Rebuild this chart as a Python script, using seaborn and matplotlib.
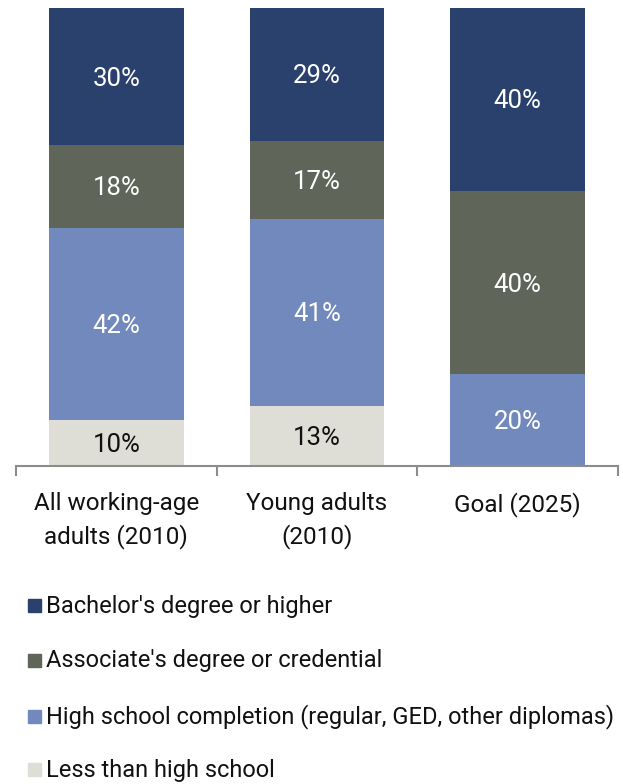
import matplotlib
matplotlib.use("Agg")
import matplotlib.pyplot as plt
import seaborn as sns
import pandas as pd
import numpy as np
from matplotlib.patches import Rectangle

categories = ["All working-age\nadults (2010)", "Young adults\n(2010)", "Goal (2025)"]
series_names = ["Less than high school",
                "High school completion (regular, GED, other diplomas)",
                "Associate's degree or credential",
                "Bachelor's degree or higher"]
less_than_hs = [10, 13, 0]
high_school = [42, 41, 20]
associate = [18, 17, 40]
bachelor = [30, 29, 40]
colors = ["#DEDED6", "#7189BC", "#5F6558", "#2A416E"]
text_colors = ["#111111", "white", "white", "white"]

sns.set_theme(style="white")
plt.rcParams['font.family'] = ['Roboto', 'DejaVu Sans']

fig = plt.figure(figsize=(6.23, 7.84), dpi=100)
ax = fig.add_axes([16/623, 1-466/784, (618-16)/623, (466-8)/784])

series = [less_than_hs, high_school, associate, bachelor]
cum = np.cumsum(np.array(series), axis=0)

# draw from top cumulative to bottom so overlays form the stack
for i in range(len(series)-1, -1, -1):
    df = pd.DataFrame({"cat": categories, "val": cum[i]})
    sns.barplot(data=df, x="cat", y="val", color=colors[i], width=0.67,
                ax=ax, saturation=1, edgecolor="none", linewidth=0)

for i, s in enumerate(series):
    for j, v in enumerate(s):
        if v <= 0:
            continue
        mid = cum[i][j] - v/2
        ax.text(j, mid - 0.4, f"{v}%", ha="center", va="center",
                color=text_colors[i], fontsize=18.5)

ax.set_xlim(-0.5, 2.5)
ax.set_ylim(0, 100)
ax.set_xlabel("")
ax.set_ylabel("")
ax.set_yticks([])
ax.set_xticks([-0.5, 0.5, 1.5, 2.5], minor=False)
ax.set_xticklabels([])
ax.tick_params(axis="x", which="major", direction="out", length=7, width=1.5,
               color="#8C8C8C", bottom=True)
for sp in ["top", "right", "left"]:
    ax.spines[sp].set_visible(False)
ax.spines["bottom"].set_color("#8C8C8C")
ax.spines["bottom"].set_linewidth(1.5)

for j, c in enumerate(categories):
    ax.text(j, -5.6, c, ha="center", va="top", fontsize=17.5,
            color="#111111", linespacing=1.5, transform=ax.transData)

legend_y = [606, 661, 717, 770]
legend_order = [3, 2, 1, 0]
for y, idx in zip(legend_y, legend_order):
    fig.patches.append(Rectangle((28/623, 1-(y+6)/784), 13/623, 13/784,
                                 transform=fig.transFigure, color=colors[idx]))
    fig.text(46/623, 1-y/784, series_names[idx], ha="left", va="center",
             fontsize=17, color="#111111")

fig.savefig("out.png", dpi=100)
